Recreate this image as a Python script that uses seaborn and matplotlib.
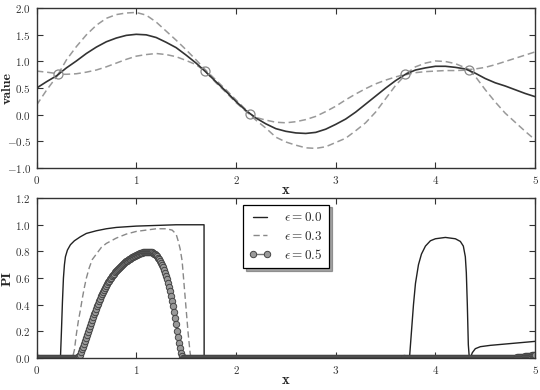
import numpy as np
import matplotlib
matplotlib.use('Agg')
import matplotlib.pyplot as plt
import seaborn as sns

# ---- top panel: model curve, dashed band, observations ----
curve_x = [0.0, 0.1, 0.2, 0.3, 0.4, 0.5, 0.6, 0.7, 0.8, 0.9,
           1.0, 1.1, 1.2, 1.3, 1.4, 1.5, 1.6, 1.7, 1.8, 1.9,
           2.0, 2.1, 2.2, 2.3, 2.4, 2.5, 2.6, 2.7, 2.8, 2.9,
           3.0, 3.1, 3.2, 3.3, 3.4, 3.5, 3.6, 3.7, 3.8, 3.9,
           4.0, 4.1, 4.2, 4.3, 4.4, 4.5, 4.6, 4.7, 4.8, 4.9, 5.0]
curve_y = [0.50, 0.62, 0.73, 0.88, 1.01, 1.15, 1.27, 1.37, 1.44, 1.49,
           1.51, 1.50, 1.45, 1.36, 1.26, 1.12, 0.97, 0.80, 0.62, 0.44,
           0.25, 0.08, -0.06, -0.17, -0.26, -0.31, -0.34, -0.35, -0.33, -0.27,
           -0.18, -0.08, 0.05, 0.20, 0.35, 0.50, 0.64, 0.76, 0.84, 0.88,
           0.91, 0.91, 0.89, 0.86, 0.78, 0.68, 0.60, 0.54, 0.47, 0.40, 0.34]

band_x = [0.0, 0.1, 0.22, 0.3, 0.4, 0.5, 0.6, 0.7, 0.8, 0.9,
          1.0, 1.1, 1.2, 1.3, 1.4, 1.5, 1.6, 1.69, 1.8, 1.9,
          2.0, 2.14, 2.2, 2.3, 2.4, 2.5, 2.6, 2.7, 2.8, 2.9,
          3.0, 3.1, 3.2, 3.3, 3.4, 3.5, 3.6, 3.7, 3.8, 3.9,
          4.0, 4.1, 4.2, 4.34, 4.4, 4.5, 4.6, 4.7, 4.8, 4.9, 5.0]
band_upper = [0.82, 0.80, 0.77, 1.03, 1.28, 1.50, 1.68, 1.81, 1.88, 1.91,
              1.92, 1.87, 1.74, 1.57, 1.40, 1.22, 1.03, 0.85, 0.65, 0.47,
              0.28, 0.02, -0.05, -0.10, -0.14, -0.15, -0.13, -0.09, -0.03, 0.06,
              0.16, 0.28, 0.39, 0.49, 0.58, 0.65, 0.71, 0.76, 0.90, 0.97,
              1.01, 1.00, 0.96, 0.85, 0.86, 0.89, 0.94, 1.00, 1.06, 1.12, 1.18]
band_lower = [0.18, 0.46, 0.76, 0.76, 0.77, 0.80, 0.84, 0.90, 0.97, 1.04,
              1.10, 1.13, 1.15, 1.13, 1.09, 1.02, 0.94, 0.82, 0.60, 0.42,
              0.23, 0.00, -0.10, -0.25, -0.42, -0.51, -0.57, -0.62, -0.63, -0.60,
              -0.52, -0.44, -0.30, -0.15, 0.05, 0.30, 0.55, 0.75, 0.79, 0.81,
              0.82, 0.83, 0.83, 0.84, 0.72, 0.47, 0.24, 0.03, -0.14, -0.31, -0.47]

obs_x = [0.22, 1.69, 2.14, 3.70, 4.34]
obs_y = [0.76, 0.83, 0.01, 0.76, 0.84]

# ---- bottom panel: probability of improvement ----
pi0_x = [0.0, 0.24, 0.25, 0.26, 0.27, 0.28, 0.29, 0.31, 0.34, 0.38,
         0.44, 0.50, 0.60, 0.70, 0.80, 0.90, 1.00, 1.20, 1.40, 1.68,
         1.681, 3.74, 3.76, 3.78, 3.80, 3.83, 3.86, 3.90, 3.95, 4.00,
         4.10, 4.20, 4.25, 4.28, 4.30, 4.31, 4.32, 4.33, 4.34, 4.35,
         4.37, 4.40, 4.45, 4.55, 4.70, 4.85, 5.0]
pi0_y = [0.0, 0.0, 0.20, 0.42, 0.60, 0.70, 0.76, 0.81, 0.85, 0.88,
         0.91, 0.935, 0.955, 0.97, 0.98, 0.985, 0.99, 0.995, 1.0, 1.0,
         0.0, 0.0, 0.20, 0.40, 0.56, 0.70, 0.78, 0.84, 0.88, 0.895,
         0.905, 0.895, 0.875, 0.84, 0.76, 0.64, 0.40, 0.10, 0.0, 0.0,
         0.04, 0.07, 0.085, 0.095, 0.105, 0.115, 0.125]

pi3_x = [0.0, 0.36, 0.38, 0.40, 0.42, 0.44, 0.46, 0.48, 0.50, 0.53,
         0.56, 0.60, 0.65, 0.70, 0.80, 0.90, 1.00, 1.10, 1.20, 1.30,
         1.36, 1.40, 1.42, 1.44, 1.46, 1.48, 1.50, 1.52, 1.54, 1.55, 5.0]
pi3_y = [0.0, 0.0, 0.06, 0.18, 0.28, 0.36, 0.45, 0.53, 0.60, 0.68,
         0.74, 0.78, 0.83, 0.86, 0.90, 0.93, 0.95, 0.96, 0.97, 0.97,
         0.96, 0.93, 0.88, 0.82, 0.73, 0.55, 0.37, 0.19, 0.04, 0.0, 0.0]

# eps = 0.5 sampled on a 0.01 grid
pi5_x = np.round(np.arange(501) * 0.01, 2)
pi5_bump = [0.000, 0.002, 0.005, 0.012, 0.025, 0.045, 0.065, 0.085, 0.105, 0.128,
            0.150, 0.172, 0.195, 0.217, 0.240, 0.262, 0.285, 0.307, 0.328, 0.349,
            0.370, 0.390, 0.409, 0.428, 0.446, 0.463, 0.480, 0.496, 0.511, 0.526,
            0.540, 0.554, 0.567, 0.580, 0.592, 0.603, 0.614, 0.624, 0.634, 0.644,
            0.653, 0.662, 0.670, 0.678, 0.686, 0.693, 0.700, 0.707, 0.713, 0.719,
            0.725, 0.731, 0.736, 0.741, 0.746, 0.751, 0.755, 0.760, 0.764, 0.768,
            0.772, 0.775, 0.779, 0.782, 0.785, 0.788, 0.791, 0.793, 0.795, 0.797,
            0.798, 0.798, 0.798, 0.798, 0.797, 0.795, 0.792, 0.788, 0.783, 0.777,
            0.770, 0.762, 0.753, 0.742, 0.730, 0.716, 0.700, 0.682, 0.662, 0.640,
            0.616, 0.590, 0.562, 0.532, 0.500, 0.465, 0.428, 0.388, 0.345, 0.300,
            0.253, 0.205, 0.158, 0.113, 0.072, 0.038, 0.014, 0.003, 0.000]
pi5_tail = [0.000, 0.001, 0.002, 0.003, 0.004, 0.005, 0.006, 0.007, 0.008, 0.009,
            0.010, 0.011, 0.012, 0.013, 0.014, 0.015, 0.016, 0.017, 0.018, 0.019,
            0.020, 0.021, 0.022]
pi5_y = [0.0] * 40 + pi5_bump + [0.0] * 329 + pi5_tail

sns.set_style('ticks')
plt.rcParams['font.family'] = ['cmr10', 'DejaVu Serif']
plt.rcParams['mathtext.fontset'] = 'cm'
plt.rcParams['axes.formatter.use_mathtext'] = True
plt.rcParams['axes.unicode_minus'] = True

fig = plt.figure(figsize=(5.4, 3.9), dpi=100)
ax1 = fig.add_axes([0.0676, 0.569, 0.9234, 0.410])
ax2 = fig.add_axes([0.0676, 0.082, 0.9234, 0.410])

dash = (0, (4.5, 2.5))
sns.lineplot(x=band_x, y=band_upper, ax=ax1, color='#999999', lw=1.1,
             linestyle=dash, estimator=None, sort=False)
sns.lineplot(x=band_x, y=band_lower, ax=ax1, color='#999999', lw=1.1,
             linestyle=dash, estimator=None, sort=False)
sns.lineplot(x=curve_x, y=curve_y, ax=ax1, color='#333333', lw=1.2,
             estimator=None, sort=False)
ax1.plot(obs_x, obs_y, 'o', ms=6.5, mfc='none', mec='#888888', mew=0.9)
ax1.set_xlim(0, 5)
ax1.set_ylim(-1, 2)
ax1.set_yticks([-1.0, -0.5, 0.0, 0.5, 1.0, 1.5, 2.0])
ax1.set_ylabel('value', family='cmb10', fontsize=10)
ax1.set_xlabel('x', family='cmb10', fontsize=10.5)

sns.lineplot(x=pi0_x, y=pi0_y, ax=ax2, color='#222222', lw=1.0,
             estimator=None, sort=False, label=r'$\epsilon = 0.0$')
sns.lineplot(x=pi3_x, y=pi3_y, ax=ax2, color='#888888', lw=1.0,
             linestyle=dash, estimator=None, sort=False, label=r'$\epsilon = 0.3$')
sns.lineplot(x=pi5_x, y=pi5_y, ax=ax2, color='#777777', lw=1.0,
             marker='o', markersize=4.6, markerfacecolor='#999999',
             markeredgecolor='#444444', markeredgewidth=0.7,
             estimator=None, sort=False, label=r'$\epsilon = 0.5$')
ax2.set_xlim(0, 5)
ax2.set_ylim(0, 1.2)
ax2.set_yticks([0.0, 0.2, 0.4, 0.6, 0.8, 1.0, 1.2])
ax2.set_ylabel('PI', family='cmb10', fontsize=10)
ax2.set_xlabel('x', family='cmb10', fontsize=10.5)
leg = ax2.legend(loc='upper center', fontsize=9.5, numpoints=2, handlelength=1.6,
                 fancybox=False, shadow=True, framealpha=1, borderpad=0.5,
                 labelspacing=0.4, handletextpad=1.0)
leg.get_frame().set_edgecolor('black')
leg.get_frame().set_linewidth(0.9)

for ax in (ax1, ax2):
    ax.set_xticks([0, 1, 2, 3, 4, 5])
    ax.tick_params(direction='in', top=True, right=True, length=4,
                   width=0.8, labelsize=8, colors='#333333', pad=4)
    for s in ax.spines.values():
        s.set_color('#333333')
        s.set_linewidth(1.0)
    # place axis labels where the reference has them
    ax.xaxis.set_label_coords(0.5, -0.095)
    ax.yaxis.set_label_coords(-0.046, 0.5)

fig.savefig('out.png', dpi=100)
